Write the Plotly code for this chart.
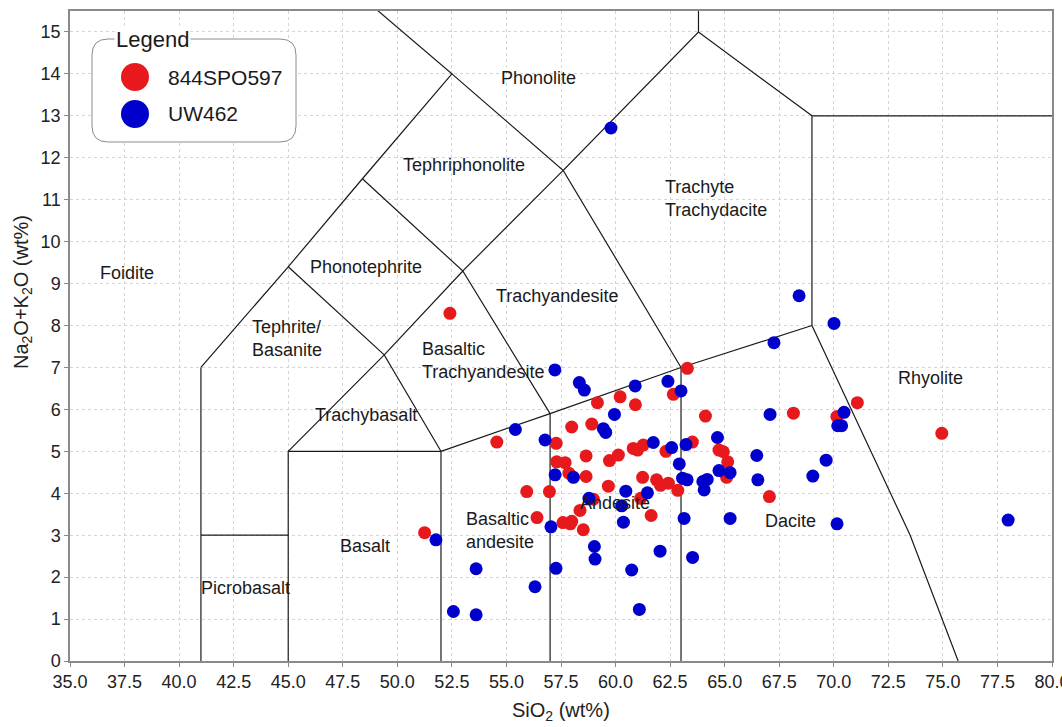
import plotly.graph_objects as go

# Total alkali vs silica data (wt%)
sio2_844 = [52.41, 63.29, 62.65, 60.21, 59.17, 60.91, 64.12, 57.99, 58.91, 54.56,
            57.28, 60.81, 61.01, 61.27, 62.31, 63.52, 64.74, 64.94, 65.14, 65.09,
            57.30, 57.69, 58.65, 59.72, 60.13, 57.86, 58.65, 59.67, 61.24, 61.88,
            62.06, 62.42, 62.85, 55.93, 56.97, 58.98, 61.15, 58.37, 61.63, 56.40,
            57.59, 57.99, 57.93, 58.52, 51.25, 68.15, 70.14, 71.08, 74.95, 67.05]
alk_844 = [8.29, 6.98, 6.36, 6.30, 6.16, 6.11, 5.84, 5.58, 5.65, 5.22,
           5.19, 5.07, 5.03, 5.15, 5.00, 5.22, 5.03, 4.99, 4.75, 4.38,
           4.75, 4.73, 4.89, 4.78, 4.91, 4.48, 4.40, 4.17, 4.38, 4.32,
           4.19, 4.24, 4.07, 4.04, 4.04, 3.86, 3.88, 3.59, 3.47, 3.42,
           3.30, 3.33, 3.27, 3.13, 3.06, 5.91, 5.83, 6.16, 5.43, 3.92]

sio2_uw = [59.79, 68.41, 70.01, 67.26, 57.22, 58.34, 58.57, 60.90, 62.40, 63.00,
           55.41, 59.95, 59.44, 59.55, 56.77, 61.73, 62.57, 63.23, 64.67, 67.08,
           70.47, 70.18, 70.36, 62.92, 57.23, 58.07, 63.07, 63.28, 64.00, 64.20,
           64.06, 64.74, 65.25, 66.47, 66.52, 69.65, 69.04, 60.47, 61.46, 58.78,
           60.28, 60.36, 63.14, 65.25, 70.15, 77.99, 57.04, 51.77, 53.61, 57.27,
           59.03, 59.06, 60.74, 62.04, 63.53, 56.31, 52.57, 53.61, 61.09]
alk_uw = [12.71, 8.71, 8.05, 7.59, 6.94, 6.64, 6.46, 6.56, 6.67, 6.44,
          5.52, 5.88, 5.54, 5.45, 5.27, 5.21, 5.09, 5.16, 5.33, 5.88,
          5.93, 5.61, 5.61, 4.70, 4.44, 4.38, 4.36, 4.32, 4.28, 4.33,
          4.08, 4.54, 4.49, 4.90, 4.32, 4.79, 4.41, 4.05, 4.01, 3.88,
          3.70, 3.31, 3.40, 3.40, 3.27, 3.36, 3.20, 2.89, 2.20, 2.21,
          2.73, 2.43, 2.17, 2.62, 2.47, 1.77, 1.18, 1.10, 1.23]

# TAS field boundaries (polylines of SiO2, Na2O+K2O)
tas_boundaries = [
    [(41, 0), (41, 7)],
    [(41, 3), (45, 3)],
    [(45, 0), (45, 5)],
    [(45, 5), (52, 5)],
    [(52, 0), (52, 5)],
    [(52, 5), (57, 5.9), (63, 7), (69, 8)],
    [(57, 0), (57, 5.9)],
    [(63, 0), (63, 7)],
    [(69, 8), (69, 13), (80, 13)],
    [(69, 8), (73.5, 3), (75.7, 0)],
    [(41, 7), (45, 9.4), (48.4, 11.5), (52.5, 14), (48, 16)],
    [(45, 5), (49.4, 7.3), (52, 5)],
    [(45, 9.4), (49.4, 7.3)],
    [(49.4, 7.3), (53, 9.3), (57, 5.9)],
    [(48.4, 11.5), (53, 9.3), (57.6, 11.7), (63, 7)],
    [(52.5, 14), (57.6, 11.7), (63.8, 15), (69, 13)],
    [(63.8, 15), (63.8, 16)],
]

# Field names: (text, x, y, anchor)
field_labels = [
    ("Foidite", 37.61, 9.25, "center"),
    ("Phonolite", 56.45, 13.90, "center"),
    ("Tephriphonolite", 53.06, 11.83, "center"),
    ("Trachyte<br>Trachydacite", 62.18, 11.02, "left"),
    ("Phonotephrite", 48.57, 9.40, "center"),
    ("Trachyandesite", 57.32, 8.70, "center"),
    ("Tephrite/<br>Basanite", 43.25, 7.70, "left"),
    ("Basaltic<br>Trachyandesite", 51.04, 7.16, "left"),
    ("Trachybasalt", 48.57, 5.87, "center"),
    ("Rhyolite", 74.44, 6.76, "center"),
    ("Basaltic<br>andesite", 53.06, 3.12, "left"),
    ("Andesite", 59.96, 3.76, "center"),
    ("Dacite", 68.03, 3.34, "center"),
    ("Basalt", 48.52, 2.74, "center"),
    ("Picrobasalt", 43.02, 1.74, "center"),
]

x_ticks = [35 + 2.5 * i for i in range(19)]
y_ticks = list(range(16))

RED = "#E8191C"
BLUE = "#0000CC"
FONT = "Liberation Sans, Arial, sans-serif"
INK = "#1a1a1a"

W, H = 1062, 727
ML, MR, MT, MB = 70, 10, 11, 66
PW, PH = W - ML - MR, H - MT - MB

fig = go.Figure()

bx, by = [], []
for line in tas_boundaries:
    for (x, y) in line:
        bx.append(x)
        by.append(y)
    bx.append(None)
    by.append(None)
fig.add_trace(go.Scatter(x=bx, y=by, mode="lines",
                         line=dict(color="#1a1a1a", width=1.2),
                         hoverinfo="skip", showlegend=False))

fig.add_trace(go.Scatter(x=sio2_844, y=alk_844, mode="markers", name="844SPO597",
                         marker=dict(color=RED, size=13, line=dict(width=0)),
                         showlegend=False))
fig.add_trace(go.Scatter(x=sio2_uw, y=alk_uw, mode="markers", name="UW462",
                         marker=dict(color=BLUE, size=13, line=dict(width=0)),
                         showlegend=False))

for text, x, y, anchor in field_labels:
    fig.add_annotation(x=x, y=y, xref="x", yref="y", text=text, showarrow=False,
                       xanchor=anchor, yanchor="middle", align=anchor if anchor == "left" else "center",
                       font=dict(family=FONT, size=18, color=INK))


# Legend panel drawn in paper coordinates from pixel positions
def px(xp):
    return (xp - ML) / PW


def py(yp):
    return (MT + PH - yp) / PH


l, r, t, b, rad = 92, 296, 39, 142, 16
rx, ry = rad / PW, rad / PH
path = (f"M {px(l)+rx},{py(t)} L {px(r)-rx},{py(t)} Q {px(r)},{py(t)} {px(r)},{py(t)-ry} "
        f"L {px(r)},{py(b)+ry} Q {px(r)},{py(b)} {px(r)-rx},{py(b)} "
        f"L {px(l)+rx},{py(b)} Q {px(l)},{py(b)} {px(l)},{py(b)+ry} "
        f"L {px(l)},{py(t)-ry} Q {px(l)},{py(t)} {px(l)+rx},{py(t)} Z")
fig.add_shape(type="path", path=path, xref="paper", yref="paper",
              line=dict(color="#8c8c8c", width=1), fillcolor="white", layer="above")

legend_items = [("844SPO597", RED, 77), ("UW462", BLUE, 114)]
for name, color, yc in legend_items:
    d = 14
    fig.add_shape(type="circle", xref="paper", yref="paper",
                  x0=px(135 - d), x1=px(135 + d), y0=py(yc + d), y1=py(yc - d),
                  fillcolor=color, line=dict(width=0), layer="above")
    fig.add_annotation(x=px(166), y=py(yc), xref="paper", yref="paper", text=name,
                       showarrow=False, xanchor="left", yanchor="middle",
                       font=dict(family=FONT, size=21, color=INK))

fig.add_annotation(x=px(152), y=py(39), xref="paper", yref="paper", text="Legend",
                   showarrow=False, xanchor="center", yanchor="middle",
                   bgcolor="white", borderpad=1,
                   font=dict(family=FONT, size=22, color=INK))

# Axis titles
fig.add_annotation(x=px(561), y=py(711), xref="paper", yref="paper",
                   text="SiO<sub>2</sub> (wt%)", showarrow=False,
                   xanchor="center", yanchor="middle",
                   font=dict(family=FONT, size=20, color="#222222"))
fig.add_annotation(x=px(22), y=py(292), xref="paper", yref="paper",
                   text="Na<sub>2</sub>O+K<sub>2</sub>O (wt%)", showarrow=False,
                   textangle=-90, xanchor="center", yanchor="middle",
                   font=dict(family=FONT, size=20, color="#222222"))

axis_style = dict(showgrid=True, gridcolor="#d4d4d4", griddash="dot", gridwidth=1,
                  showline=True, linecolor="#8a8a8a", linewidth=1.5, mirror=True,
                  ticks="outside", ticklen=4, tickcolor="#8a8a8a", zeroline=False,
                  ticklabeloverflow="allow", automargin=False,
                  tickfont=dict(family=FONT, size=18, color="#222222"))
fig.update_xaxes(range=[35, 80], tickvals=x_ticks,
                 ticktext=[f"{v:.1f}" for v in x_ticks], **axis_style)
fig.update_yaxes(range=[0, 15.5], tickvals=y_ticks, **axis_style)

fig.update_layout(width=W, height=H, margin=dict(l=ML, r=MR, t=MT, b=MB, autoexpand=False),
                  paper_bgcolor="white", plot_bgcolor="white", showlegend=False)

fig.write_html("out.html")
